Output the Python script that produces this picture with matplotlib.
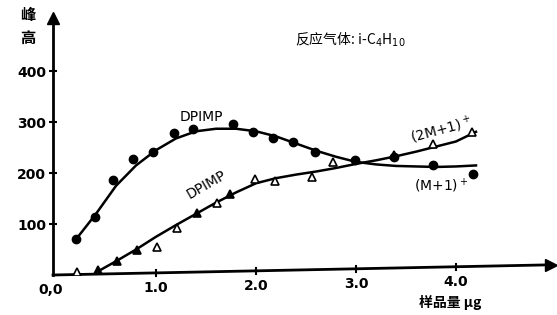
import numpy as np
import matplotlib
matplotlib.use('Agg')
import matplotlib.pyplot as plt

plt.rcParams['font.family'] = ['DejaVu Sans', 'Noto Sans CJK SC']
CJK = ['Noto Sans CJK SC', 'DejaVu Sans']

# (M+1)+ measured points
m1_x = [0.2, 0.39, 0.57, 0.77, 0.97, 1.18, 1.37, 1.77, 1.97, 2.17, 2.37, 2.59, 2.99, 3.38, 3.77, 4.17]
m1_y = [70, 114, 186, 227, 241, 278, 286, 296, 280, 269, 261, 241, 225, 231, 216, 198]

# (2M+1)+ measured points
m2_x = [0.21, 0.42, 0.61, 0.81, 1.01, 1.21, 1.41, 1.61, 1.74, 1.99, 2.19, 2.56, 2.77, 3.38, 3.77, 4.16]
m2_y = [5, 10, 27, 49, 55, 92, 121, 141, 159, 188, 184, 192, 222, 235, 257, 280]
m2_filled = [False, True, True, True, False, False, True, False, True, False, False, False, False, True, False, False]

# hand-drawn curves
c1_x = [0.2, 0.4, 0.6, 0.8, 1.0, 1.2, 1.4, 1.6, 1.8, 2.0, 2.2, 2.4, 2.6, 2.8, 3.0, 3.2, 3.4, 3.6, 3.8, 4.0, 4.2]
c1_y = [70, 120, 175, 215, 245, 268, 282, 287, 287, 282, 272, 258, 244, 232, 222, 217, 214, 213, 212, 213, 215]
c2_x = [0.4, 0.6, 0.8, 1.0, 1.2, 1.4, 1.6, 1.8, 2.0, 2.2, 2.4, 2.6, 2.8, 3.0, 3.2, 3.4, 3.6, 3.8, 4.0, 4.2]
c2_y = [5, 27, 50, 75, 98, 120, 142, 162, 180, 190, 197, 203, 210, 218, 225, 233, 242, 252, 262, 281]

y_ticks = [100, 200, 300, 400]
x_ticks = [0, 1, 2, 3, 4]
x_labels = ['0,0', '1.0', '2.0', '3.0', '4.0']

# the scanned x axis rises slightly to the right
X_END, X_RISE = 4.95, 20


def axis_y(x):
    return (x + 0.03) / (X_END + 0.03) * X_RISE


fig = plt.figure(figsize=(5.57, 3.15), dpi=100)
ax = fig.add_axes([53 / 557, 40 / 315, 504 / 557, 265 / 315])
ax.set_xlim(-0.03, 5.01)
ax.set_ylim(0, 520)
for s in ax.spines.values():
    s.set_visible(False)

# axes with arrows
ax.plot([-0.03, -0.03], [0, 505], color='black', lw=2, clip_on=False)
ax.plot([-0.03], [505], marker='^', color='black', ms=8, clip_on=False)
ax.plot([-0.03, X_END], [0, X_RISE], color='black', lw=2, clip_on=False)
ax.plot([X_END], [X_RISE], marker='>', color='black', ms=8, clip_on=False)

ax.plot(c1_x, c1_y, color='black', lw=1.8)
ax.plot(c2_x, c2_y, color='black', lw=1.8)
ax.plot(m1_x, m1_y, 'o', color='black', ms=6)
for x, y, f in zip(m2_x, m2_y, m2_filled):
    ax.plot(x, y, '^', ms=6, markeredgecolor='black', markeredgewidth=1.2,
            markerfacecolor='black' if f else 'white')

ax.set_yticks(y_ticks)
ax.set_yticklabels([str(t) for t in y_ticks], fontweight='bold', fontsize=10)
ax.tick_params(axis='y', direction='inout', length=6, width=1.5, pad=2)
ax.set_xticks([])

# x ticks follow the sloped axis line
for t, lab in zip(x_ticks, x_labels):
    ay = axis_y(t)
    if t > 0:
        ax.plot([t, t], [ay - 6, ay + 6], color='black', lw=1.5, clip_on=False)
    ax.text(t - (0.05 if t == 0 else 0), ay - 30, lab, fontsize=10, fontweight='bold',
            ha='center', va='center', clip_on=False)

ax.text(1.45, 310, 'DPIMP', fontsize=10, ha='center', va='center')
ax.text(1.5, 178, 'DPIMP', fontsize=10, ha='center', va='center', rotation=30)
ax.text(3.85, 284, '(2M+1)$^+$', fontsize=10, ha='center', va='center', rotation=15)
ax.text(3.85, 174, '(M+1)$^+$', fontsize=10, ha='center', va='center')

fig.text(350 / 557, 1 - 40 / 315, '反应气体: i-C$_4$H$_{10}$', fontsize=10,
         family=CJK, ha='center', va='center')
fig.text(28 / 557, 1 - 15 / 315, '峰', fontsize=11, fontweight='bold', family=CJK,
         ha='center', va='center')
fig.text(28 / 557, 1 - 38 / 315, '高', fontsize=11, fontweight='bold', family=CJK,
         ha='center', va='center')
fig.text(450 / 557, 1 - 302 / 315, '样品量 μg', fontsize=10, fontweight='bold', family=CJK,
         ha='center', va='center')

fig.savefig('out.png', dpi=100)
